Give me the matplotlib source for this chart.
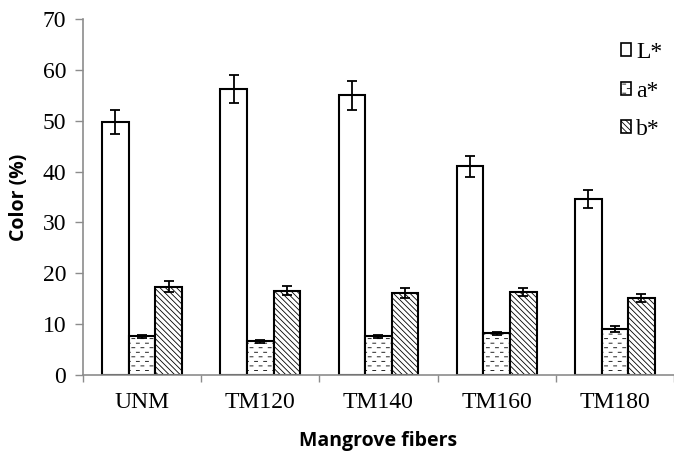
import warnings
import numpy as np
import matplotlib
matplotlib.use("Agg")
import matplotlib.pyplot as plt
from matplotlib import hatch as mhatch
from matplotlib.path import Path

fibers = ["UNM", "TM120", "TM140", "TM160", "TM180"]
series = ["L*", "a*", "b*"]
L_val = [49.7, 56.2, 55.0, 41.0, 34.6]
L_err = [2.4, 2.7, 2.8, 2.1, 1.7]
a_val = [7.6, 6.6, 7.6, 8.2, 9.0]
a_err = [0.3, 0.3, 0.3, 0.3, 0.6]
b_val = [17.4, 16.6, 16.2, 16.4, 15.1]
b_err = [1.0, 0.9, 1.0, 0.8, 0.8]


class DashHatch(mhatch.HatchPatternBase):
    """Staggered rows of short horizontal dashes, one row set per '_'."""

    def __init__(self, hatch, density):
        self.rows = hatch.count('_') * 22
        self.per_row = 11
        self.num_vertices = self.rows * self.per_row * 2

    def set_vertices_and_codes(self, vertices, codes):
        if self.rows == 0:
            return
        step = 1.0 / self.per_row
        dash = step * 0.33
        k = 0
        for r in range(self.rows):
            y = (r + 0.5) / self.rows
            shift = 0.5 * step if r % 2 else 0.0
            for c in range(self.per_row):
                x0 = (c * step + shift) % 1.0
                vertices[k] = (x0, y)
                vertices[k + 1] = (min(x0 + dash, 1.0), y)
                codes[k] = Path.MOVETO
                codes[k + 1] = Path.LINETO
                k += 2


mhatch._hatch_types.append(DashHatch)
warnings.filterwarnings("ignore")

plt.rcParams['hatch.linewidth'] = 0.6
plt.rcParams['hatch.color'] = 'black'

serif = "Liberation Serif"
fig = plt.figure(figsize=(6.74, 4.51), dpi=100)
ax = fig.add_axes([0.1231, 0.1685, 0.8769, 0.7894])

x = np.arange(len(fibers))
w = 0.225
ekw = dict(ecolor='black', elinewidth=1.3, capsize=3.8, capthick=1.3)
ax.bar(x - w, L_val, w, yerr=L_err, color='white', edgecolor='black',
       linewidth=1.5, label=series[0], error_kw=ekw)
ax.bar(x, a_val, w, yerr=a_err, color='white', edgecolor='black',
       linewidth=1.5, hatch='_', label=series[1], error_kw=ekw)
ax.bar(x + w, b_val, w, yerr=b_err, color='white', edgecolor='black',
       linewidth=1.5, hatch='\\' * 6, label=series[2], error_kw=ekw)

ax.set_xlim(-0.5, -0.5 + 591 / 120)
ax.set_ylim(0, 70)
ax.set_yticks(range(0, 71, 10))
ax.set_xticks(x)
ax.set_xticklabels(fibers, fontfamily=serif, fontsize=17)
ax.set_xticks(np.arange(-0.5, 5, 1), minor=True)
ax.tick_params(axis='x', which='major', length=0, pad=12)
ax.tick_params(axis='x', which='minor', length=5, color='#8c8c8c', width=1)
ax.tick_params(axis='y', length=6, color='#8c8c8c', width=1, pad=6,
               labelsize=17)
for t in ax.get_yticklabels():
    t.set_fontfamily(serif)

for s in ['top', 'right']:
    ax.spines[s].set_visible(False)
for s in ['left', 'bottom']:
    ax.spines[s].set_color('#8c8c8c')
    ax.spines[s].set_linewidth(1.2)

ax.set_ylabel("Color (%)", fontfamily="Open Sans", fontweight='bold',
              fontsize=14)
ax.yaxis.set_label_coords(-0.092, 0.5)
ax.set_xlabel("Mangrove fibers", fontfamily="Open Sans", fontweight='bold',
              fontsize=14)
ax.xaxis.set_label_coords(0.5, -0.156)

leg = ax.legend(loc='upper right', bbox_to_anchor=(0.98, 0.935), frameon=False,
                prop={'family': serif, 'size': 17}, handlelength=0.45,
                handleheight=0.45, handletextpad=0.2, labelspacing=0.74,
                borderaxespad=0, borderpad=0)
for p in leg.get_patches():
    p.set_linewidth(1.2)

fig.savefig("out.png", dpi=100)
